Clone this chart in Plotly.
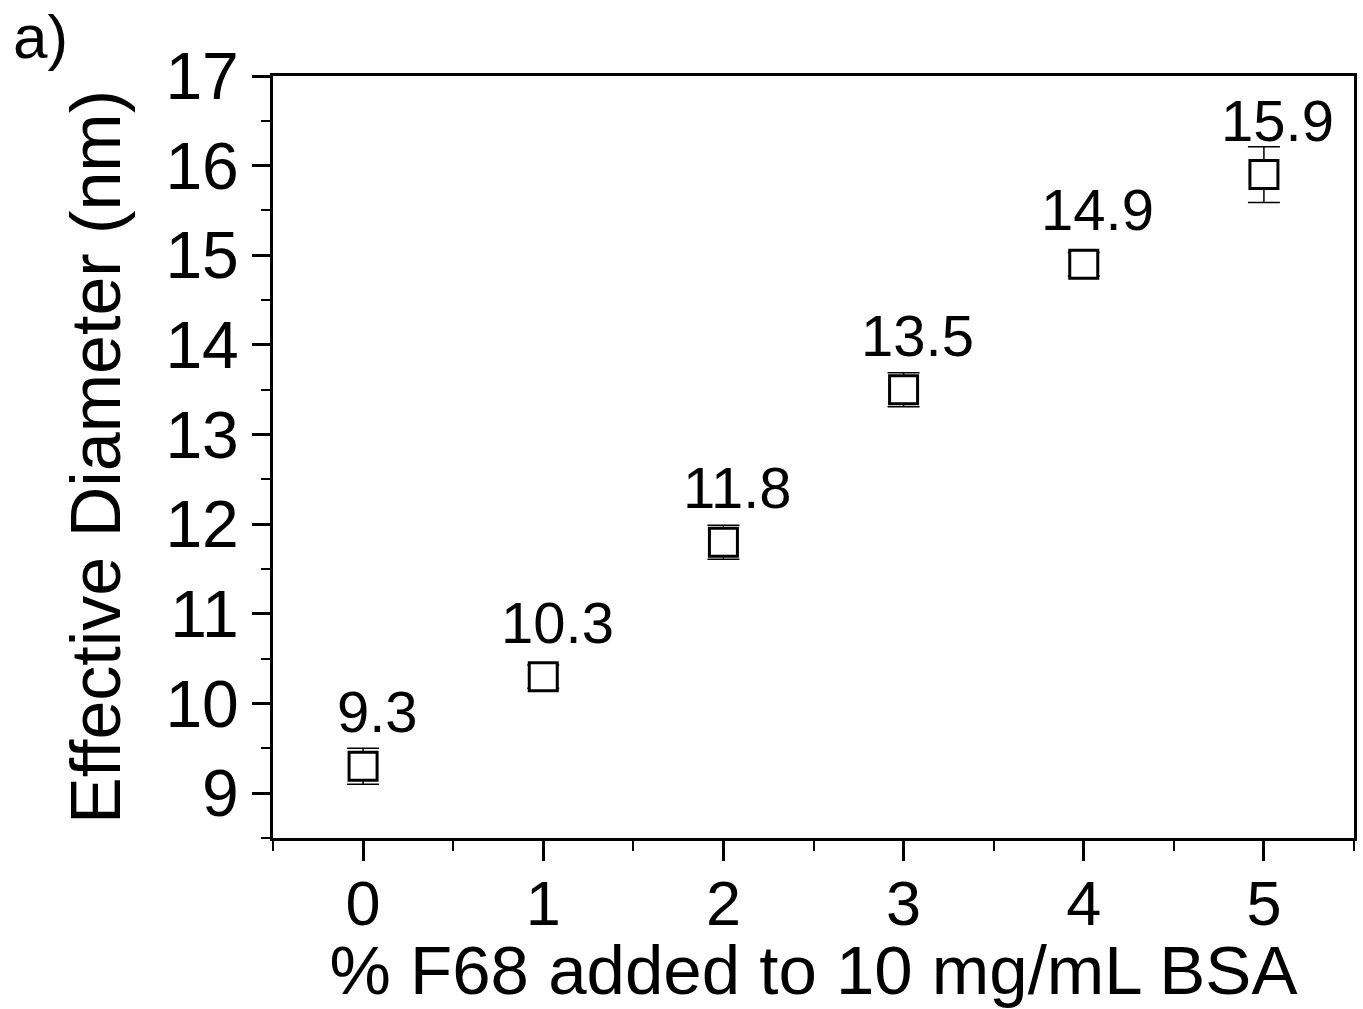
import plotly.graph_objects as go

# F68 concentration (%) and measured effective diameter (nm)
f68_percent = [0, 1, 2, 3, 4, 5]
diameter_nm = [9.3, 10.3, 11.8, 13.5, 14.9, 15.9]
diameter_err = [0.2, 0.13, 0.19, 0.19, 0.13, 0.31]
y_ticks = [9, 10, 11, 12, 13, 14, 15, 16, 17]
x_ticks = [0, 1, 2, 3, 4, 5]

FONT = "Liberation Sans, Arial, sans-serif"

fig = go.Figure()
fig.add_trace(go.Scatter(
    x=f68_percent,
    y=diameter_nm,
    mode="markers",
    marker=dict(symbol="square", size=28, color="white",
                line=dict(width=3, color="black")),
    error_y=dict(type="data", array=diameter_err, visible=True,
                 color="black", thickness=1.5, width=16),
    showlegend=False,
))

# value labels above each point
for xv, yv in zip(f68_percent, diameter_nm):
    fig.add_annotation(x=xv, y=yv, text=f"{yv:.1f}", showarrow=False,
                       xanchor="center", yanchor="bottom",
                       xshift=14, yshift=20,
                       font=dict(family=FONT, size=58, color="black"))

fig.add_annotation(x=0, y=1, xref="paper", yref="paper", xanchor="left",
                   yanchor="top", text="a)", showarrow=False,
                   xshift=-262, yshift=76,
                   font=dict(family=FONT, size=62, color="black"))

axis_common = dict(
    showline=True, linecolor="black", linewidth=3, mirror=True,
    ticks="outside", tickcolor="black", tickwidth=3,
    showgrid=False, zeroline=False, automargin=False,
)

fig.update_xaxes(
    range=[-0.5, 5.5], tickvals=x_ticks, ticklen=20,
    tickfont=dict(family=FONT, size=63, color="black"),
    minor=dict(tickvals=[-0.5, 0.5, 1.5, 2.5, 3.5, 4.5, 5.5], ticklen=10,
               tickwidth=2, tickcolor="black", ticks="outside"),
    title=dict(text="% F68 added to 10 mg/mL BSA", standoff=12,
               font=dict(family=FONT, size=69, color="black")),
    ticklabelstandoff=-12,
    **axis_common,
)
fig.update_yaxes(
    range=[8.5, 17], tickvals=y_ticks, ticklen=18,
    tickfont=dict(family=FONT, size=66, color="black"),
    minor=dict(tickvals=[8.5 + i for i in range(9)], ticklen=9,
               tickwidth=2, tickcolor="black", ticks="outside"),
    title=dict(text="Effective Diameter (nm)", standoff=22,
               font=dict(family=FONT, size=70, color="black")),
    ticklabelstandoff=0,
    **axis_common,
)

fig.update_layout(
    width=1363, height=1009,
    margin=dict(l=273, r=9, t=76, b=171),
    plot_bgcolor="white", paper_bgcolor="white",
    font=dict(family=FONT, color="black"),
)

fig.write_html("out.html")
